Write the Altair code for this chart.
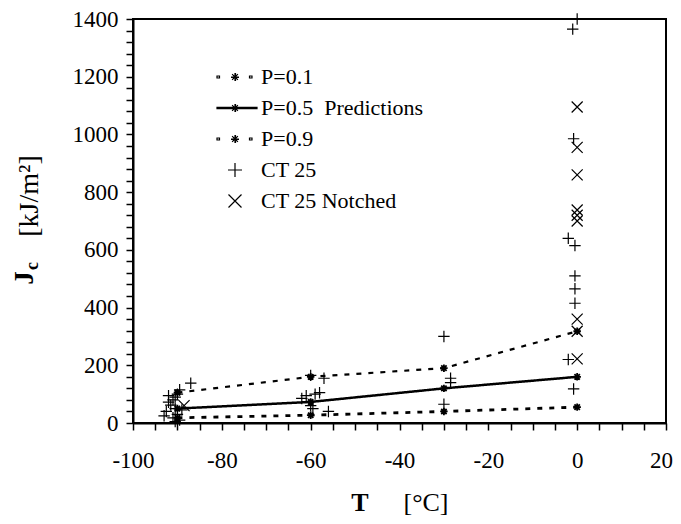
import altair as alt
import pandas as pd

# ---------------- data ----------------
T_PRED = [-90, -60, -30, 0]
P01 = [18, 27, 40, 55]
P05 = [50, 73, 120, 160]
P09 = [105, 160, 190, 318]

CT25_T = [-87, -89.5, -90, -90.5, -91, -92, -91.5, -90.5, -89, -92.5, -90, -93, -91, -89.5, -90.5, -92,
          -60, -57, -62, -61, -59, -58, -60, -59.5, -56,
          -30, -28.5, -28.5, -30,
          0, -1, -0.8, -2, -0.5, -0.5, -0.5, -0.5, -2, -0.8]
CT25_J = [138, 115, 100, 90, 80, 72, 62, 50, 45, 40, 30, 25, 18, 10, 5, 95,
          165, 155, 85, 95, 100, 105, 60, 50, 40,
          300, 155, 140, 65,
          1400, 1365, 985, 640, 615, 510, 465, 415, 220, 118]
NOTCH_T = [-88.5, 0, 0, 0, 0, 0, 0, 0, 0, 0]
NOTCH_J = [60, 1095, 955, 860, 738, 720, 700, 360, 318, 222]

SERIES = ["P=0.1", "P=0.5\u00a0\u00a0Predictions", "P=0.9", "CT 25", "CT 25 Notched"]
X_TICKS = list(range(-100, 21, 5))
Y_TICKS = list(range(0, 1401, 40))

# ---------------- tables ----------------
lines_rows = []
for name, vals in zip(SERIES[:3], [P01, P05, P09]):
    for t, j in zip(T_PRED, vals):
        lines_rows.append({"T": t, "J": j, "series": name})
lines_df = pd.DataFrame(lines_rows)
ct_df = pd.DataFrame({"T": CT25_T, "J": CT25_J, "series": SERIES[3]})
notch_df = pd.DataFrame({"T": NOTCH_T, "J": NOTCH_J, "series": SERIES[4]})
all_df = pd.concat([lines_df, ct_df, notch_df], ignore_index=True)

# ---------------- styles ----------------
FONT = "Liberation Serif"
AST = "M-1,0H1M0,-1V1M-0.72,-0.72L0.72,0.72M-0.72,0.72L0.72,-0.72"
PLUS = "M-1,0H1M0,-1V1"
CROSS = "M-1,-1L1,1M-1,1L1,-1"

# legend symbol paths (in pixels, symbol size 4 -> scale 1)
EXT = "M-20,0L-20,0M24,0L24,0"
ASTL = ("M-4,0H4M0,-4V4M-2.9,-2.9L2.9,2.9M-2.9,2.9L2.9,-2.9"
        "M-4,0.5H4M0.5,-4V4")
DASH_L = EXT + "M-18,-1H-15.5V1H-18ZM14.5,-1H17V1H14.5Z" + ASTL
SOLID_L = EXT + "M-18,-0.6H22V0.6H-18Z" + ASTL
PLUS_L = EXT + "M-7,0H7M0,-7V7"
CROSS_L = EXT + "M-6.5,-6.5L6.5,6.5M-6.5,6.5L6.5,-6.5"

x_scale = alt.Scale(domain=[-100, 20], nice=False, zero=False)
y_scale = alt.Scale(domain=[0, 1400], nice=False)

axis_common = dict(
    grid=False, domainColor="black", domainWidth=2, tickColor="black", tickWidth=1.5,
    tickSize=7, labelFont=FONT, labelFontSize=23, labelColor="black", title=None,
    labelFlush=False, labelOverlap=False,
)
x_axis = alt.Axis(values=X_TICKS, labelExpr="datum.value % 20 == 0 ? '' + datum.value : ''",
                  labelPadding=19,
                  labelOffset={"condition": {"test": "datum.value == 20", "value": -5}, "value": 0},
                  **axis_common)
y_axis = alt.Axis(values=Y_TICKS, labelExpr="datum.value % 200 == 0 ? '' + datum.value : ''",
                  labelPadding=8, **axis_common)

X = alt.X("T:Q", scale=x_scale, axis=x_axis)
Y = alt.Y("J:Q", scale=y_scale, axis=y_axis)

lines = alt.Chart(lines_df).mark_line(color="black").encode(
    x=X, y=Y,
    strokeDash=alt.StrokeDash("series:N", scale=alt.Scale(domain=SERIES[:3], range=[[5, 7], [1, 0], [5, 7]]), legend=None),
    strokeWidth=alt.StrokeWidth("series:N", scale=alt.Scale(domain=SERIES[:3], range=[2.8, 2.2, 2.8]), legend=None),
    order=alt.Order("T:Q"),
)

ast_pts = alt.Chart(lines_df).mark_point(shape=AST, size=56, filled=False, color="black",
                                         strokeWidth=1.8, opacity=1).encode(x=X, y=Y)
plus_pts = alt.Chart(ct_df).mark_point(shape=PLUS, size=130, filled=False, color="black",
                                       strokeWidth=1.2, opacity=1).encode(x=X, y=Y)
cross_pts = alt.Chart(notch_df).mark_point(shape=CROSS, size=121, filled=False, color="black",
                                           strokeWidth=1.2, opacity=1).encode(x=X, y=Y)

legend = alt.Legend(
    title=None, orient="none", legendX=91, legendY=47,
    labelFont=FONT, labelFontSize=22, labelColor="black", labelLimit=400,
    symbolSize=4, rowPadding=9, labelOffset=15, symbolOpacity=1,
    symbolFillColor="transparent", symbolStrokeColor="black", symbolStrokeWidth=1.2,
)

legend_layer = alt.Chart(all_df).mark_point(filled=False, color="black", opacity=0).encode(
    x=X, y=Y,
    shape=alt.Shape("series:N", scale=alt.Scale(domain=SERIES, range=[DASH_L, SOLID_L, DASH_L, PLUS_L, CROSS_L]),
                    legend=legend),
)


def txt(text, x, y, size, weight="normal", angle=0):
    return alt.Chart(alt.Data(values=[{}])).mark_text(
        text=text, font=FONT, fontSize=size, fontWeight=weight, angle=angle,
        color="black", align="center", baseline="middle",
    ).encode(x=alt.value(x), y=alt.value(y))


titles = [
    txt("T", 227, 484, 26, "bold"),
    txt("[°C]", 293, 484, 26),
    txt("[kJ/m²]", -103, 177, 28, angle=270),
    txt("J", -108, 259, 27, "bold", angle=270),
    txt("c", -100, 247, 18, "bold", angle=270),
]

chart = alt.layer(lines, ast_pts, plus_pts, cross_pts, legend_layer, *titles).resolve_scale(
    strokeDash="independent", strokeWidth="independent"
).properties(
    width=533, height=404,
    autosize=alt.AutoSizeParams(type="none"),
    padding={"left": 125, "top": 11, "right": 7, "bottom": 93},
).configure_view(stroke="black", strokeWidth=2)

chart.save("out.html", embed_options={"renderer": "svg", "actions": False})
